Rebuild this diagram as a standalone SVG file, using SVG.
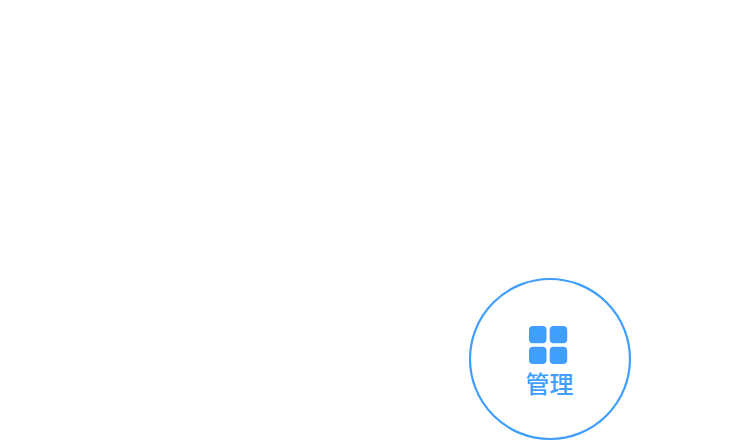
<svg xmlns="http://www.w3.org/2000/svg" width="750" height="444" viewBox="0 0 750 444">
<style>.t{font-family:"Noto Sans CJK SC","Liberation Sans",sans-serif;font-size:24px;font-weight:500;fill:#409eff;text-anchor:middle}.q{fill:#409eff}</style>
<rect width="750" height="444" fill="#fff"/>
<g id="node-manage">
<circle cx="550" cy="359" r="80" fill="#fff" stroke="#409eff" stroke-width="2.200"/>
<rect class="q" x="529" y="326" width="17.500" height="17.300" rx="4"/>
<rect class="q" x="549.700" y="326" width="17.500" height="17.300" rx="4"/>
<rect class="q" x="529" y="346.700" width="17.500" height="17.300" rx="4"/>
<rect class="q" x="549.700" y="346.700" width="17.500" height="17.300" rx="4"/>
<text class="t" x="549.500" y="393">管理</text>
</g>
<g id="connectors"/>
</svg>
